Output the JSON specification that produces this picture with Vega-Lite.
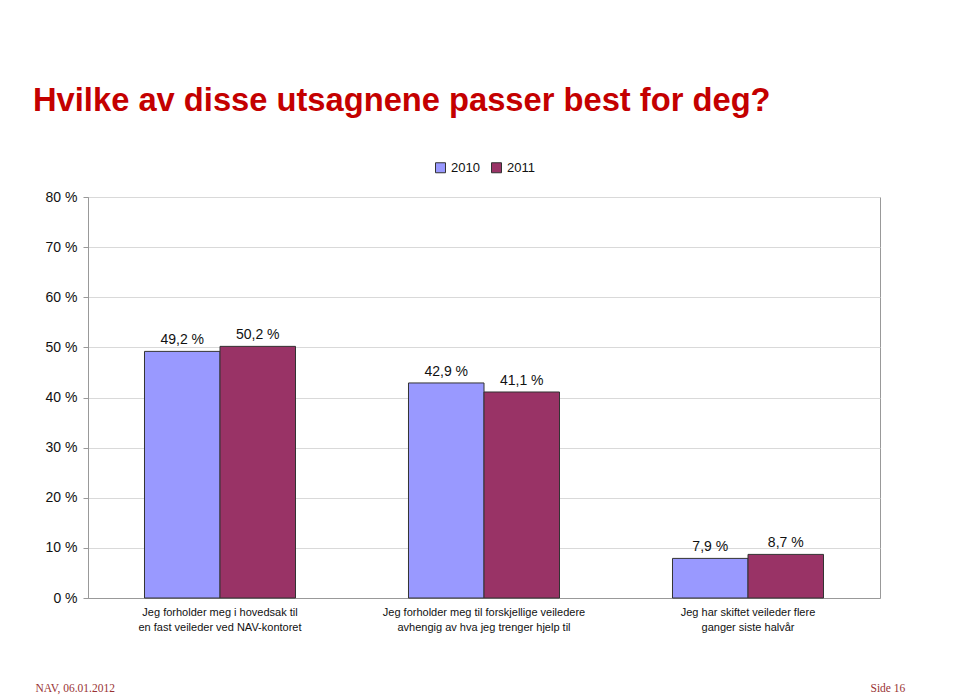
{
  "$schema": "https://vega.github.io/schema/vega-lite/v6.json",
  "width": 792,
  "height": 401,
  "autosize": {"type": "none"},
  "padding": {"left": 88, "right": 80, "top": 197, "bottom": 100},
  "background": "white",
  "title": {
    "text": "Hvilke av disse utsagnene passer best for deg?",
    "anchor": "start",
    "frame": "group",
    "color": "#C40000",
    "font": "Liberation Sans",
    "fontSize": 32.7,
    "fontWeight": "bold",
    "dx": -55,
    "offset": 43
  },
  "data": {
    "values": [
      {"kategori": "Jeg forholder meg i hovedsak til|en fast veileder ved NAV-kontoret", "aar": "2010", "andel": 0.492},
      {"kategori": "Jeg forholder meg i hovedsak til|en fast veileder ved NAV-kontoret", "aar": "2011", "andel": 0.502},
      {"kategori": "Jeg forholder meg til forskjellige veiledere|avhengig av hva jeg trenger hjelp til", "aar": "2010", "andel": 0.429},
      {"kategori": "Jeg forholder meg til forskjellige veiledere|avhengig av hva jeg trenger hjelp til", "aar": "2011", "andel": 0.411},
      {"kategori": "Jeg har skiftet veileder flere|ganger siste halvår", "aar": "2010", "andel": 0.079},
      {"kategori": "Jeg har skiftet veileder flere|ganger siste halvår", "aar": "2011", "andel": 0.087}
    ]
  },
  "encoding": {
    "x": {
      "field": "kategori",
      "type": "nominal",
      "sort": null,
      "scale": {"paddingInner": 0.428, "paddingOuter": 0.214},
      "axis": {
        "labelExpr": "split(datum.label, '|')",
        "labelAngle": 0,
        "labelFont": "Liberation Sans",
        "labelFontSize": 11,
        "labelColor": "#111",
        "labelPadding": 8,
        "labelLineHeight": 15,
        "labelLimit": 300,
        "ticks": false,
        "domainColor": "#999",
        "title": "NAV, 06.01.2012",
        "titleFont": "Liberation Serif",
        "titleFontSize": 11.5,
        "titleFontWeight": "normal",
        "titleColor": "#993333",
        "titleAlign": "left",
        "titleAnchor": "start",
        "titleBaseline": "alphabetic",
        "titleX": -53,
        "titleY": 93
      }
    },
    "xOffset": {"field": "aar", "type": "nominal", "scale": {"paddingInner": 0, "paddingOuter": 0}},
    "y": {
      "field": "andel",
      "type": "quantitative",
      "scale": {"domain": [0, 0.8], "nice": false},
      "axis": {
        "values": [0, 0.1, 0.2, 0.3, 0.4, 0.5, 0.6, 0.7, 0.8],
        "format": ".0%",
        "labelFont": "Liberation Sans",
        "labelFontSize": 14,
        "labelColor": "#111",
        "labelPadding": 6,
        "tickSize": 5,
        "tickColor": "#999",
        "domainColor": "#999",
        "gridColor": "#d9d9d9",
        "title": "Side 16",
        "titleAngle": 0,
        "titleFont": "Liberation Serif",
        "titleFontSize": 11.5,
        "titleFontWeight": "normal",
        "titleColor": "#993333",
        "titleAlign": "left",
        "titleBaseline": "alphabetic",
        "titleX": 782,
        "titleY": 494
      }
    }
  },
  "layer": [
    {
      "mark": {"type": "bar", "stroke": "#333", "strokeWidth": 1},
      "encoding": {
        "color": {
          "field": "aar",
          "type": "nominal",
          "scale": {"domain": ["2010", "2011"], "range": ["#9999FF", "#993366"]},
          "legend": {
            "title": null,
            "orient": "top",
            "direction": "horizontal",
            "offset": 22,
            "symbolType": "square",
            "symbolSize": 100,
            "symbolStrokeColor": "#333",
            "symbolStrokeWidth": 1,
            "labelFont": "Liberation Sans",
            "labelFontSize": 13,
            "labelColor": "#111",
            "labelOffset": 4,
            "columnPadding": 9
          }
        }
      }
    },
    {
      "mark": {"type": "text", "baseline": "alphabetic", "dy": -7, "font": "Liberation Sans", "fontSize": 14, "color": "#111"},
      "encoding": {
        "text": {"field": "andel", "type": "quantitative", "format": ".1%"}
      }
    }
  ],
  "config": {
    "locale": {
      "number": {"decimal": ",", "thousands": " ", "grouping": [3], "currency": ["", " kr"], "percent": " %"}
    },
    "view": {"stroke": "#999"},
    "legend": {"layout": {"top": {"anchor": "middle"}}}
  }
}
